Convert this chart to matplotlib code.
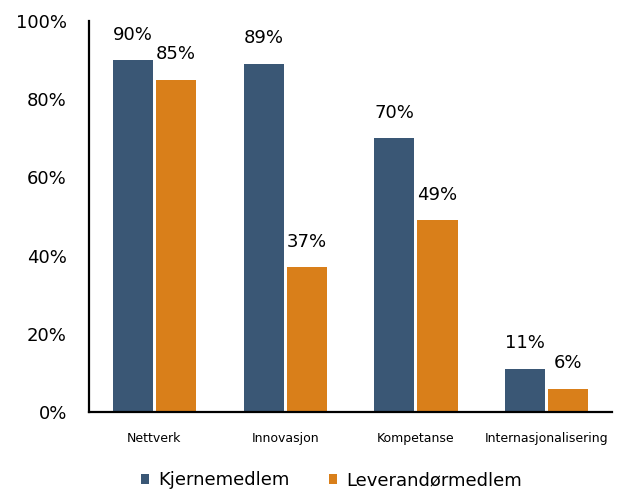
import numpy as np
import matplotlib.pyplot as plt

# ── data ─────────────────────────────────────────
categories   = ['Nettverk', 'Innovasjon', 'Kompetanse', 'Internasjonalisering']
kjerne       = [90, 89, 70, 11]
leverandor   = [85, 37, 49, 6]
series_names = ['Kjernemedlem', 'Leverandørmedlem']

BLUE   = '#3A5775'
ORANGE = '#D97F1A'

fig = plt.figure(figsize=(6.25, 4.90), dpi=100)
ax = fig.add_axes([0.1424, 0.159, 0.837, 0.798])

x = np.arange(len(categories))
w = 0.307
off = 0.165

b1 = ax.bar(x - off, kjerne, w, color=BLUE, label=series_names[0])
b2 = ax.bar(x + off, leverandor, w, color=ORANGE, label=series_names[1])

for bars, vals in [(b1, kjerne), (b2, leverandor)]:
    for rect, v in zip(bars, vals):
        ax.annotate(f'{v}%', (rect.get_x() + rect.get_width() / 2, v),
                    xytext=(0, 12), textcoords='offset points',
                    ha='center', va='bottom', fontsize=13)

ax.set_xlim(-0.5, len(categories) - 0.5)
ax.set_ylim(0, 100)
ax.set_yticks([0, 20, 40, 60, 80, 100])
ax.set_yticklabels([f'{t}%' for t in [0, 20, 40, 60, 80, 100]], fontsize=13)
ax.set_xticks(x)
ax.set_xticklabels(categories, fontsize=9)
ax.tick_params(axis='y', length=0, pad=16)
ax.tick_params(axis='x', length=0, pad=14)

for s in ['top', 'right']:
    ax.spines[s].set_visible(False)
ax.spines['left'].set_linewidth(1.6)
ax.spines['bottom'].set_linewidth(1.6)

# legend sits at the very bottom of the figure
fig.legend(loc='lower center', bbox_to_anchor=(0.53, -0.032), ncol=2,
           frameon=False, fontsize=13, handlelength=0.45, handleheight=0.45,
           columnspacing=2.2, handletextpad=0.5)

fig.savefig('out.png', dpi=100)
